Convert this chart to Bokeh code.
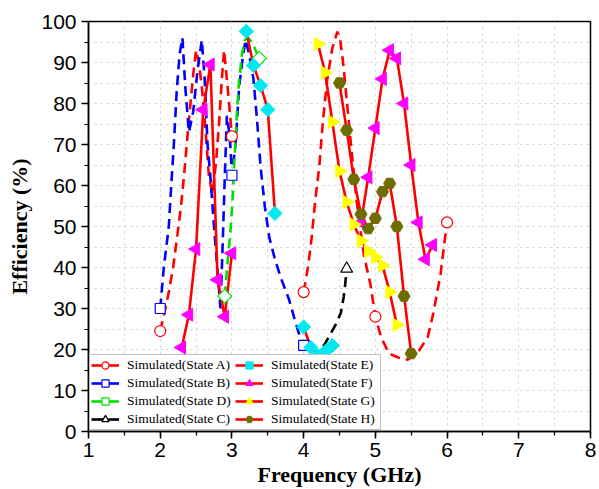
import numpy as np
from bokeh.plotting import figure
from bokeh.models import Legend, LegendItem, SingleIntervalTicker, Range1d
from bokeh.embed import file_html
from bokeh.resources import INLINE

nan = float("nan")

# ---- data ----
a_freq = [2.0, 2.06, 2.12, 2.18, 2.24, 2.29, 2.33, 2.40, 2.46, 2.50, 2.54, 2.58, 2.63, 2.68, 2.73, 2.78,
          2.82, 2.86, 2.89, 2.94, 3.0, nan,
          4.0, 4.06, 4.11, 4.16, 4.22, 4.27, 4.33, 4.40, 4.47, 4.51, 4.55, 4.60, 4.66, 4.74, 4.84, 4.93,
          5.0, 5.08, 5.19, 5.33, 5.45, 5.6, 5.73, 5.81, 5.91, 5.97, 6.0]
a_eff = [24.5, 29, 34, 40, 48, 55, 62, 76, 87, 93, 90, 84, 74, 62, 58, 66,
         75, 86, 93, 84, 72, nan,
         34, 40, 47, 56, 65, 76, 86, 93.5, 97.5, 95.5, 90, 81, 70, 56, 43, 36,
         28, 23, 19, 18, 17.5, 19.5, 23, 29, 38.5, 47, 51]
a_marker_freq = [2.0, 3.0, 4.0, 5.0, 6.0]

b_freq = [2.0, 2.05, 2.12, 2.15, 2.19, 2.23, 2.27, 2.31, 2.35, 2.40, 2.46, 2.52, 2.58, 2.62, 2.66, 2.70,
          2.75, 2.80, 2.84, 2.87, 2.90, 2.93, 2.97, 3.0, 3.05, 3.1, 3.15, 3.19, 3.24, 3.3, 3.35, 3.4,
          3.46, 3.52, 3.6, 3.68, 3.8, 3.88, 3.95, 4.0]
b_eff = [30, 40, 50, 59, 70, 83, 92, 96, 84, 73, 78, 88, 95.5, 86, 70, 62,
         50, 39, 30, 45, 62, 77, 72, 62.5, 70, 84, 91, 95.5, 92, 86, 76, 64.5,
         54.7, 47.4, 42, 37.6, 32, 27, 23, 21]
b_marker_freq = [2.0, 3.0, 4.0]

d_freq = [2.9, 2.94, 2.98, 3.01, 3.03, 3.05, 3.07, 3.1, 3.14, 3.18, 3.22, 3.28, 3.33, 3.38]
d_eff = [33, 41.5, 49, 57, 64.5, 71, 78, 85.5, 92, 95.5, 96, 95, 93, 91]
d_marker_freq = [2.9, 3.38]

c_freq = [4.15, 4.21, 4.3, 4.38, 4.46, 4.52, 4.56, 4.58, 4.6]
c_eff = [17.5, 19, 21.5, 24, 26.5, 29, 33, 36, 39.7]
c_marker_freq = [4.6]

e_freq = [3.2, 3.3, 3.4, 3.5, 3.6, nan, 4.0, 4.1, 4.2, 4.3, 4.4]
e_eff = [97.6, 89.3, 84.4, 78.5, 53.2, nan, 25.5, 20.5, 18.5, 19.5, 21]

f_freq = [2.3, 2.4, 2.5, 2.6, 2.7, 2.8, 2.9, 3.0, nan, 4.8, 4.9, 5.0, 5.1, 5.2, 5.3, 5.4, 5.5, 5.6, 5.7, 5.8]
f_eff = [20.5, 28.5, 44.5, 78.5, 89.5, 37, 28, 43.5, nan, 51, 62, 74, 86, 93, 91, 80, 65, 51, 42, 45.5]

g_freq = [4.2, 4.3, 4.4, 4.5, 4.6, 4.7, 4.8, 4.9, 5.0, 5.1, 5.2, 5.3]
g_eff = [94.5, 87.5, 75.5, 63.5, 56, 50.5, 46.5, 44, 42.5, 40.5, 34, 26]

h_freq = [4.5, 4.6, 4.7, 4.8, 4.9, 5.0, 5.1, 5.2, 5.3, 5.4, 5.5]
h_eff = [85, 73.5, 61.5, 53, 49.5, 52, 58.5, 60.5, 50, 33, 19]

labels = ["Simulated(State A)", "Simulated(State B)", "Simulated(State D)", "Simulated(State C)",
          "Simulated(State E)", "Simulated(State F)", "Simulated(State G)", "Simulated(State H)"]

x_ticks = [1, 2, 3, 4, 5, 6, 7, 8]
y_ticks = [0, 10, 20, 30, 40, 50, 60, 70, 80, 90, 100]


def pick(freq, eff, marks):
    xs, ys = [], []
    for f, e in zip(freq, eff):
        if f == f and any(abs(f - m) < 1e-9 for m in marks):
            xs.append(f)
            ys.append(e)
    return xs, ys


p = figure(width=599, height=489, x_range=Range1d(x_ticks[0], x_ticks[-1]),
           y_range=Range1d(y_ticks[0], y_ticks[-1]),
           output_backend="svg", toolbar_location=None,
           min_border_left=88, min_border_right=9, min_border_top=21, min_border_bottom=58,
           background_fill_color="white", border_fill_color="white")

RED, BLUE, GREEN, BLACK = "#ff0000", "#0000ff", "#00e000", "#000000"
CYAN, MAGENTA, YELLOW, OLIVE = "#00e8f0", "#ff00ff", "#ffff00", "#6e6e00"
DASH = "10 6"
LW = 2.6

# dashed curves
p.line(a_freq, a_eff, line_color=RED, line_width=LW, line_dash=DASH)
p.line(b_freq, b_eff, line_color=BLUE, line_width=LW, line_dash=DASH)
p.line(d_freq, d_eff, line_color=GREEN, line_width=LW, line_dash=DASH)
p.line(c_freq, c_eff, line_color=BLACK, line_width=LW, line_dash=DASH)

# solid curves
p.line(e_freq, e_eff, line_color=RED, line_width=LW)
p.line(f_freq, f_eff, line_color=RED, line_width=LW)
p.line(g_freq, g_eff, line_color=RED, line_width=LW)
p.line(h_freq, h_eff, line_color=RED, line_width=LW)

# solid one-point lines (draw nothing in the plot, give solid strokes in the legend)
leg_a = p.line(a_freq[:1], a_eff[:1], line_color=RED, line_width=LW)
leg_b = p.line(b_freq[:1], b_eff[:1], line_color=BLUE, line_width=LW)
leg_d = p.line(d_freq[:1], d_eff[:1], line_color=GREEN, line_width=LW)
leg_c = p.line(c_freq[:1], c_eff[:1], line_color=BLACK, line_width=LW)

# markers on dashed curves
mx, my = pick(a_freq, a_eff, a_marker_freq)
m_a = p.scatter(mx, my, marker="circle", size=11, line_color=RED, fill_color="white", line_width=1.2)
mx, my = pick(b_freq, b_eff, b_marker_freq)
m_b = p.scatter(mx, my, marker="square", size=10, line_color=BLUE, fill_color="white", line_width=1.2)
mx, my = pick(d_freq, d_eff, d_marker_freq)
m_d = p.scatter(mx, my, marker="square", angle=np.pi / 4, size=10, line_color=GREEN, fill_color="white",
                line_width=1.2)
mx, my = pick(c_freq, c_eff, c_marker_freq)
m_c = p.scatter(mx, my, marker="triangle", size=12, line_color=BLACK, fill_color="white", line_width=1.2)

# lines + markers of solid curves
l_e = p.line(e_freq[:1], e_eff[:1], line_color=RED, line_width=LW)
l_f = p.line(f_freq[:1], f_eff[:1], line_color=RED, line_width=LW)
l_g = p.line(g_freq[:1], g_eff[:1], line_color=RED, line_width=LW)
l_h = p.line(h_freq[:1], h_eff[:1], line_color=RED, line_width=LW)
m_e = p.scatter(e_freq, e_eff, marker="square", angle=np.pi / 4, size=10, line_color=CYAN, fill_color=CYAN)
m_f = p.scatter(f_freq, f_eff, marker="triangle", angle=np.pi / 2, size=13, line_color=MAGENTA,
                fill_color=MAGENTA)
m_g = p.scatter(g_freq, g_eff, marker="triangle", angle=-np.pi / 2, size=13, line_color=YELLOW,
                fill_color=YELLOW)
m_h = p.scatter(h_freq, h_eff, marker="hex", size=12, line_color=OLIVE, fill_color=OLIVE)

pairs = [(leg_a, m_a), (leg_b, m_b), (leg_d, m_d), (leg_c, m_c),
         (l_e, m_e), (l_f, m_f), (l_g, m_g), (l_h, m_h)]
items = [LegendItem(label=lab, renderers=list(rr)) for lab, rr in zip(labels, pairs)]

legend = Legend(items=items, location=(1, 1), orientation="vertical", ncols=2,
                label_text_font="Liberation Serif", label_text_font_size="13.5px",
                label_text_color="black",
                glyph_width=28, glyph_height=18, label_height=18, spacing=0, padding=1,
                margin=0, label_standoff=8, label_width=108,
                border_line_color="#808080", border_line_width=1,
                background_fill_color="white", background_fill_alpha=1.0)
p.add_layout(legend)

# axes
p.xaxis.ticker = SingleIntervalTicker(interval=1, num_minor_ticks=2)
p.yaxis.ticker = SingleIntervalTicker(interval=10, num_minor_ticks=2)
for ax in (p.xaxis[0], p.yaxis[0]):
    ax.axis_line_color = "black"
    ax.axis_line_width = 1.5
    ax.major_tick_line_color = "black"
    ax.major_tick_line_width = 1.5
    ax.minor_tick_line_color = "black"
    ax.minor_tick_line_width = 1.2
    ax.major_tick_out = 7
    ax.major_tick_in = 0
    ax.minor_tick_out = 4
    ax.minor_tick_in = 0
    ax.major_label_text_font = "Liberation Sans"
    ax.major_label_text_font_size = "21px"
    ax.major_label_text_color = "black"
    ax.axis_label_text_font = "Liberation Serif"
    ax.axis_label_text_font_style = "bold"
    ax.axis_label_text_font_size = "22px"
    ax.axis_label_text_color = "black"
p.xaxis.axis_label = "Frequency (GHz)"
p.yaxis.axis_label = "Efficiency (%)"
p.xaxis.major_label_standoff = 4
p.yaxis.major_label_standoff = 5
p.xaxis.axis_label_standoff = 2
p.yaxis.axis_label_standoff = 6

for g in (p.xgrid[0], p.ygrid[0]):
    g.grid_line_color = None
    g.minor_grid_line_color = "#cfcfcf"
    g.minor_grid_line_dash = "dotted"
    g.minor_grid_line_width = 1

p.outline_line_color = "black"
p.outline_line_width = 1.5

open("out.html", "w").write(file_html(p, INLINE))
